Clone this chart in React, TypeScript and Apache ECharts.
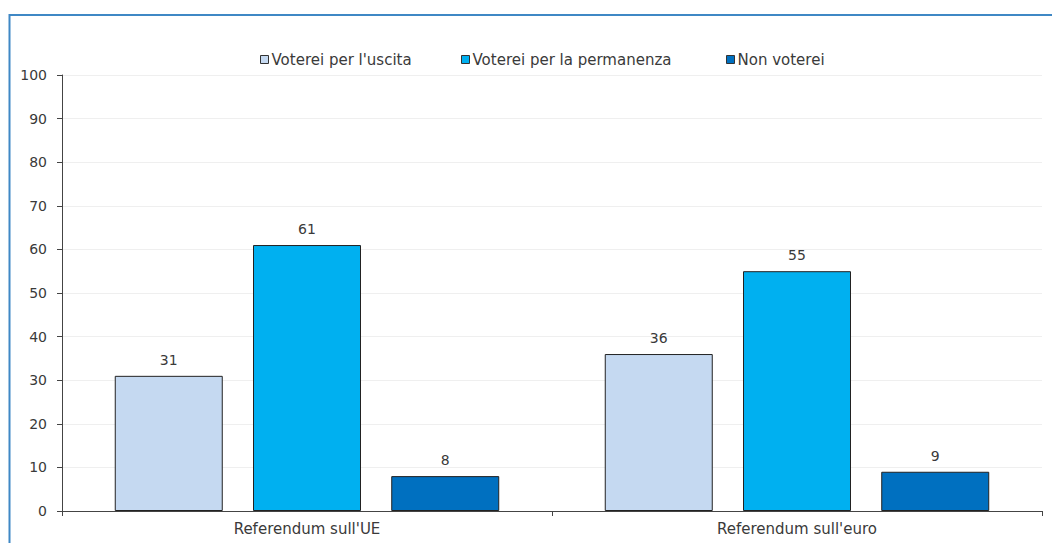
import React, { useEffect, useRef } from "react";
import * as echarts from "echarts";

const categories = ["Referendum sull'UE", "Referendum sull'euro"];
const seriesNames = ["Voterei per l'uscita", "Voterei per la permanenza", "Non voterei"];
const uscita = [31, 36];
const permanenza = [61, 55];
const nonVoterei = [8, 9];
const colors = ["#C5D9F1", "#00B0F0", "#0070C0"];

const FONT = "DejaVu Sans";
const FS_TEXT = 15;
const FS_NUM = 14;
const TXT = "#3a3a3a";
const legendLefts = [260, 461, 726];

export default function App() {
  const ref = useRef<HTMLDivElement>(null);
  useEffect(() => {
    if (!ref.current) return;
    const chart = echarts.init(ref.current, undefined, { renderer: "svg" });
    const data = [uscita, permanenza, nonVoterei];
    chart.setOption({
      animation: false,
      textStyle: { fontFamily: FONT },
      graphic: [
        {
          type: "rect",
          shape: { x: 9.5, y: 15, width: 1100, height: 600 },
          style: { fill: "none", stroke: "#3F88C5", lineWidth: 2 },
          silent: true,
        },
      ],
      legend: seriesNames.map((name, i) => ({
        top: 52,
        left: legendLefts[i],
        padding: 0,
        itemWidth: 8,
        itemHeight: 8,
        icon: "rect",
        textStyle: { fontFamily: FONT, fontSize: FS_TEXT, color: TXT, padding: [0, 0, 0, -2] },
        itemStyle: { borderColor: "#333", borderWidth: 1 },
        data: [name],
      })),
      grid: { left: 62, right: 10, top: 75, bottom: 32 },
      xAxis: {
        type: "category",
        data: categories,
        axisLine: { lineStyle: { color: "#444", width: 1 } },
        axisTick: { show: true, length: 5, lineStyle: { color: "#444" } },
        axisLabel: { fontFamily: FONT, fontSize: FS_TEXT, color: TXT, margin: 10 },
        splitLine: { show: false },
      },
      yAxis: {
        type: "value",
        min: 0,
        max: 100,
        interval: 10,
        axisLine: { show: true, lineStyle: { color: "#444", width: 1 } },
        axisTick: { show: true, length: 5, lineStyle: { color: "#444" } },
        axisLabel: { fontFamily: FONT, fontSize: FS_NUM, color: TXT, margin: 15 },
        splitLine: { show: true, lineStyle: { color: "#EFEFEF", width: 1 } },
      },
      series: seriesNames.map((name, i) => ({
        name,
        type: "bar",
        data: data[i],
        barWidth: 108,
        barGap: "28%",
        itemStyle: { color: colors[i], borderColor: "#222", borderWidth: 1 },
        label: {
          show: true,
          position: "top",
          distance: 9,
          fontFamily: FONT,
          fontSize: FS_NUM,
          color: TXT,
        },
      })),
    });
    return () => chart.dispose();
  }, []);
  return (
    <div
      ref={ref}
      style={{ position: "fixed", left: 0, top: 0, width: 1052, height: 543, background: "#fff" }}
    />
  );
}
